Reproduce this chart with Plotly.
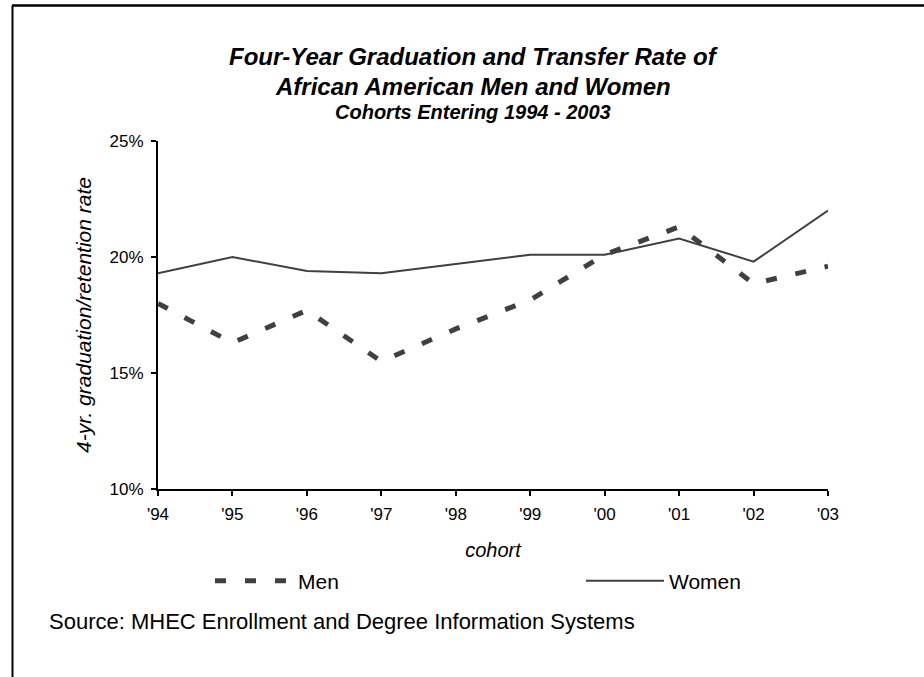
import plotly.graph_objects as go

cohorts = ["'94", "'95", "'96", "'97", "'98", "'99", "'00", "'01", "'02", "'03"]
men = [18.0, 16.3, 17.7, 15.5, 16.9, 18.15, 20.1, 21.3, 18.85, 19.6]
women = [19.3, 20.0, 19.4, 19.3, 19.7, 20.1, 20.1, 20.8, 19.8, 22.0]
y_tick_vals = [10, 15, 20, 25]
y_tick_text = ["10%", "15%", "20%", "25%"]

FONT = "Liberation Sans, Arial, sans-serif"
LINE = "#404040"

W, H = 924, 677
L, R, T, B = 158, 828, 141, 489
PW, PH = R - L, B - T


def px(x):
    return (x - L) / PW


def py(y):
    return (B - y) / PH


fig = go.Figure()
fig.add_trace(go.Scatter(x=cohorts, y=men, mode="lines", name="Men", legend="legend",
                         line=dict(color=LINE, width=5, dash="11px,19px")))
fig.add_trace(go.Scatter(x=cohorts, y=women, mode="lines", name="Women", legend="legend2",
                         line=dict(color=LINE, width=2)))

leg_common = dict(orientation="h", yanchor="middle", xanchor="left",
                  font=dict(size=21, color="black"), bgcolor="rgba(0,0,0,0)",
                  itemwidth=78, borderwidth=0)

fig.update_layout(
    width=W, height=H,
    margin=dict(l=L, r=W - R, t=T, b=H - B),
    paper_bgcolor="white", plot_bgcolor="white",
    font=dict(family=FONT, size=17, color="black"),
    showlegend=True,
    hovermode=False,
    legend=dict(x=px(210), y=py(581), **leg_common),
    legend2=dict(x=px(581), y=py(581), **leg_common),
    xaxis=dict(type="category", range=[0, 9], showline=True, linecolor="black", linewidth=2,
               ticks="outside", ticklen=5, tickcolor="black", tickwidth=2,
               showgrid=False, zeroline=False, tickfont=dict(size=17),
               ticklabelstandoff=4,
               title=dict(text="<i>cohort</i>", font=dict(size=20), standoff=20)),
    yaxis=dict(range=[10, 25], tickvals=y_tick_vals, ticktext=y_tick_text, showline=True,
               linecolor="black", linewidth=2, ticks="outside", ticklen=5,
               tickcolor="black", tickwidth=2, showgrid=False, zeroline=False,
               tickfont=dict(size=17), ticklabelstandoff=4,
               title=dict(text="<i>4-yr. graduation/retention rate</i>", font=dict(size=21),
                          standoff=12)),
)

title_x = px(473)
fig.add_annotation(text="<b><i>Four-Year Graduation and Transfer Rate of</i></b>",
                   xref="paper", yref="paper", x=title_x, y=py(57), xanchor="center",
                   yanchor="middle", showarrow=False, font=dict(size=24))
fig.add_annotation(text="<b><i>African American Men and Women</i></b>",
                   xref="paper", yref="paper", x=title_x, y=py(86), xanchor="center",
                   yanchor="middle", showarrow=False, font=dict(size=24))
fig.add_annotation(text="<b><i>Cohorts Entering 1994 - 2003</i></b>",
                   xref="paper", yref="paper", x=title_x, y=py(112), xanchor="center",
                   yanchor="middle", showarrow=False, font=dict(size=20))
fig.add_annotation(text="Source: MHEC Enrollment and Degree Information Systems",
                   xref="paper", yref="paper", x=px(47), y=py(621), xanchor="left",
                   yanchor="middle", showarrow=False, font=dict(size=22))

# outer frame (top and left edges visible)
fig.add_shape(type="line", xref="paper", yref="paper", x0=px(12), x1=px(930),
              y0=py(5.5), y1=py(5.5), line=dict(color="black", width=2.5))
fig.add_shape(type="line", xref="paper", yref="paper", x0=px(12.5), x1=px(12.5),
              y0=py(5.5), y1=py(690), line=dict(color="black", width=2))

fig.write_html("out.html", config={"displayModeBar": False},
               post_script="document.body.style.margin='0';")
